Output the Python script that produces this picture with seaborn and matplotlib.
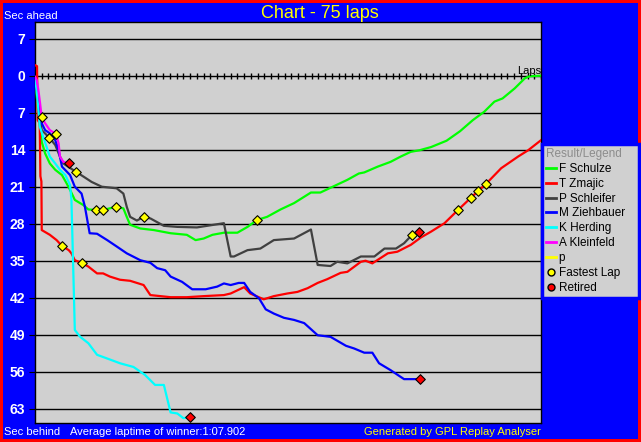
import numpy as np
import pandas as pd
import matplotlib
matplotlib.use('Agg')
import matplotlib.pyplot as plt
from matplotlib.lines import Line2D
import seaborn as sns

# gap to the winner's average pace in seconds (positive = behind), read per lap
schulze_laps = [0, 0.5, 1.0, 1.5, 2.2, 3.0, 4.0, 4.7, 5.2, 5.9, 7.2, 7.9, 9.0, 10.1, 12.0, 13.1,
                13.6, 14.1, 15.6, 17.6, 20.1, 22.5, 23.8, 25.0, 26.3, 28.0, 30.0, 31.5, 32.9, 34.4,
                36.4, 38.4, 40.9, 42.3, 44.3, 46.3, 48.0, 48.8, 50.8, 52.7, 54.2, 55.7, 57.0, 58.7,
                61.0, 63.0, 64.9, 66.6, 68.1, 69.3, 71.1, 72.6, 73.3, 75.0]
schulze_gap = [0.5, 7.0, 12.5, 14.7, 16.6, 17.8, 18.8, 20.4, 21.6, 23.5, 24.5, 25.3, 25.4, 25.4, 24.8, 25.1,
               26.7, 28.2, 28.9, 29.2, 29.8, 30.1, 31.1, 30.8, 30.1, 29.7, 29.7, 28.6, 27.3, 26.7,
               25.3, 24.1, 22.1, 22.1, 20.9, 19.7, 18.5, 18.3, 17.2, 16.3, 15.3, 14.4, 14.1, 13.5,
               12.3, 10.5, 8.4, 6.8, 4.9, 4.3, 2.4, 0.5, 0.1, 0.0]

zmajic_laps = [0, 0.3, 0.4, 0.7, 0.8, 0.95, 1.0, 2.2, 3.2, 4.0, 5.0, 5.4, 5.9, 6.9, 7.9, 9.2, 10.1,
               11.1, 12.6, 14.1, 16.1, 17.1, 20.1, 22.5, 25.0, 28.0, 29.0, 31.0, 31.9, 33.9, 35.4,
               37.4, 38.9, 40.4, 41.9, 43.3, 45.3, 46.3, 48.3, 49.0, 50.0, 52.3, 53.7, 55.7, 57.2,
               58.7, 60.7, 62.7, 64.6, 65.7, 66.9, 69.1, 71.6, 73.1, 75.0]
zmajic_gap = [-2.0, -1.8, 8.4, 9.0, 19.0, 20.0, 29.2, 30.1, 31.1, 32.2, 33.0, 33.6, 34.9, 35.4, 36.1, 37.4, 37.4,
              38.0, 38.6, 38.8, 39.6, 41.5, 41.9, 41.9, 41.7, 41.5, 41.2, 40.0, 41.2, 42.3, 41.7,
              41.2, 40.9, 40.2, 39.2, 38.5, 37.3, 37.1, 35.2, 35.0, 35.5, 33.6, 33.3, 32.0, 30.6,
              29.5, 27.9, 25.4, 23.1, 21.8, 20.4, 17.5, 15.3, 14.1, 12.2]

schleifer_laps = [0, 0.5, 1.0, 2.1, 3.0, 3.7, 4.2, 4.9, 6.1, 7.2, 8.4, 9.9, 12.1, 13.1, 13.6, 14.1,
                  15.1, 16.1, 17.1, 19.1, 21.1, 24.0, 26.0, 28.0, 28.5, 29.0, 29.5, 31.5, 33.4, 35.4,
                  38.4, 40.9, 41.9, 43.8, 44.8, 46.3, 48.3, 50.3, 51.8, 53.5, 54.7, 55.9, 56.9]
schleifer_gap = [0.8, 5.5, 10.3, 11.7, 13.1, 15.3, 16.6, 17.2, 18.2, 19.1, 20.1, 21.0, 21.3, 22.3, 24.8, 26.7,
                 27.4, 26.7, 27.0, 28.4, 28.6, 28.7, 28.3, 27.9, 31.1, 34.2, 34.2, 33.0, 32.7, 31.1,
                 30.8, 29.1, 35.8, 36.0, 35.2, 35.5, 34.2, 34.2, 32.7, 32.7, 31.7, 30.1, 29.5]

ziehbauer_laps = [0, 0.5, 1.0, 1.5, 2.2, 3.0, 3.5, 4.0, 5.2, 5.9, 6.9, 7.4, 8.1, 9.2, 10.7, 12.1,
                  13.6, 15.6, 17.1, 18.1, 19.3, 20.1, 21.8, 23.3, 25.3, 27.0, 28.0, 29.0, 30.2, 31.0,
                  31.9, 33.2, 34.2, 35.4, 36.9, 38.4, 39.9, 41.9, 43.8, 46.1, 47.3, 48.8, 50.0, 51.0,
                  52.7, 54.7, 57.0]
ziehbauer_gap = [0.3, 4.5, 9.0, 10.3, 10.9, 12.2, 14.1, 17.2, 18.8, 21.0, 22.3, 24.8, 29.8, 29.9, 31.1, 32.3,
                 33.6, 34.9, 35.4, 36.4, 36.8, 38.0, 39.0, 40.4, 40.4, 39.9, 39.3, 39.6, 39.2, 39.2,
                 40.9, 42.1, 44.2, 45.0, 45.8, 46.2, 46.8, 49.1, 49.4, 51.1, 51.6, 52.4, 52.4, 54.4,
                 55.7, 57.4, 57.4]

herding_laps = [0, 0.25, 0.5, 0.7, 1.2, 1.7, 2.2, 3.0, 3.7, 4.5, 5.2, 5.4, 5.7, 5.9, 6.7, 7.9,
                9.2, 10.7, 12.6, 14.6, 16.3, 17.8, 19.1, 20.1, 21.1, 22.0, 23.0]
herding_gap = [0.8, 2.7, 6.5, 9.6, 11.5, 13.4, 15.3, 16.6, 17.8, 18.8, 20.7, 23.5, 38.0, 48.1, 49.4, 50.6,
               52.8, 53.5, 54.4, 55.1, 56.6, 58.5, 58.5, 63.7, 63.9, 64.8, 64.5]

kleinfeld_laps = [0, 0.25, 0.5, 0.75, 1.0, 1.5, 2.2, 3.1, 3.5, 3.7, 4.2, 5.0]
kleinfeld_gap = [0.2, 0.8, 2.7, 5.2, 7.9, 9.0, 10.3, 11.0, 12.8, 15.3, 16.3, 16.6]

p_laps = []
p_gap = []

fastest_laps = [1.0, 3.1, 2.1, 6.1, 16.1, 55.9, 9.0, 10.1, 12.0, 32.9, 4.0, 6.9, 62.7, 64.6, 65.7, 66.9]
fastest_gaps = [7.9, 11.0, 11.7, 18.2, 26.7, 30.1, 25.4, 25.4, 24.8, 27.3, 32.2, 35.4, 25.4, 23.1, 21.8, 20.4]

retired_laps = [5.0, 23.0, 57.0, 56.9]
retired_gaps = [16.6, 64.5, 57.4, 29.5]

drivers = ['F Schulze', 'T Zmajic', 'P Schleifer', 'M Ziehbauer', 'K Herding', 'A Kleinfeld', 'p']
colors = ['#00ff00', '#ff0000', '#404040', '#0000ff', '#00ffff', '#ff00ff', '#ffff00']
y_ticks = [-7, 0, 7, 14, 21, 28, 35, 42, 49, 56, 63]

series = [(schulze_laps, schulze_gap), (zmajic_laps, zmajic_gap), (schleifer_laps, schleifer_gap),
          (ziehbauer_laps, ziehbauer_gap), (herding_laps, herding_gap),
          (kleinfeld_laps, kleinfeld_gap), (p_laps, p_gap)]

frames = []
for name, (laps, gap) in zip(drivers, series):
    if len(laps):
        frames.append(pd.DataFrame({'driver': name, 'lap': laps, 'gap': gap}))
df = pd.concat(frames, ignore_index=True)

plt.rcParams['font.family'] = ['Liberation Sans', 'DejaVu Sans']

W, H = 641, 442
fig = plt.figure(figsize=(W / 100, H / 100), dpi=100, facecolor='#0000ff', edgecolor='#ff0000')
fig.patch.set_linewidth(3)
ax = fig.add_axes([35 / W, 1 - 423 / H, (541 - 35) / W, (423 - 22) / H])
ax.set_facecolor('#d0d0d0')

for gy in y_ticks:
    ax.axhline(gy, color='black', lw=1.0, zorder=1)

# lap tick row on the zero line
ax.plot(np.arange(0, 76), np.zeros(76), linestyle='none', marker='|', ms=5, mew=1, color='black', zorder=2)

palette = dict(zip(drivers, colors))
sns.lineplot(data=df, x='lap', y='gap', hue='driver', palette=palette, sort=False,
             estimator=None, linewidth=1.6, legend=False, ax=ax, zorder=3)

sns.scatterplot(x=fastest_laps, y=fastest_gaps, marker='D', s=24, color='#ffff00',
                edgecolor='black', linewidth=0.8, ax=ax, zorder=5)
sns.scatterplot(x=retired_laps, y=retired_gaps, marker='D', s=24, color='#ff0000',
                edgecolor='black', linewidth=0.8, ax=ax, zorder=5)

ax.set_xlim(0, 75)
ax.set_ylim(65.7, -10.16)
ax.set_yticks(y_ticks)
ax.set_yticklabels([str(abs(v)) for v in y_ticks], color='white', fontweight='bold', fontsize=10)
ax.tick_params(axis='y', length=4, color='black', pad=3)
ax.set_xticks([])
ax.set_xlabel('')
ax.set_ylabel('')
for sp in ax.spines.values():
    sp.set_color('black')
    sp.set_linewidth(1)

ax.text(75, 0, 'Laps', ha='right', va='bottom', fontsize=8, color='black')

fig.text(320 / W, 1 - 14 / H, 'Chart - 75 laps', ha='center', va='center', color='#ffff00', fontsize=13)
fig.text(4 / W, 1 - 16 / H, 'Sec ahead', ha='left', va='center', color='white', fontsize=8)
fig.text(4 / W, 1 - 432 / H, 'Sec behind', ha='left', va='center', color='white', fontsize=8)
fig.text(70 / W, 1 - 432 / H, 'Average laptime of winner:1:07.902', ha='left', va='center',
         color='white', fontsize=8)
fig.text(541 / W, 1 - 432 / H, 'Generated by GPL Replay Analyser', ha='right', va='center',
         color='#ffff00', fontsize=8)

handles = [Line2D([0], [0], color=c, lw=2) for c in colors]
handles.append(Line2D([], [], marker='o', color='none', markerfacecolor='#ffff00',
                      markeredgecolor='black', ms=5))
handles.append(Line2D([], [], marker='o', color='none', markerfacecolor='#ff0000',
                      markeredgecolor='black', ms=5))
labels = drivers + ['Fastest Lap', 'Retired']
leg = fig.legend(handles, labels, loc='upper left',
                 bbox_to_anchor=(542 / W, 1 - 297 / H, 97 / W, 153 / H), mode='expand',
                 title='Result/Legend', fontsize=8.5, title_fontsize=8.5, frameon=True,
                 fancybox=False, handlelength=0.8, handletextpad=0.25, labelspacing=0.24,
                 borderpad=0.35, borderaxespad=0, alignment='left')
leg.get_frame().set_facecolor('#d0d0d0')
leg.get_frame().set_edgecolor('#0000ff')
leg.get_frame().set_linewidth(2.5)
leg.get_frame().set_alpha(1)
leg.get_title().set_color('#8c8c8c')

fig.savefig('out.png', dpi=100, facecolor=fig.get_facecolor(), edgecolor=fig.get_edgecolor())
